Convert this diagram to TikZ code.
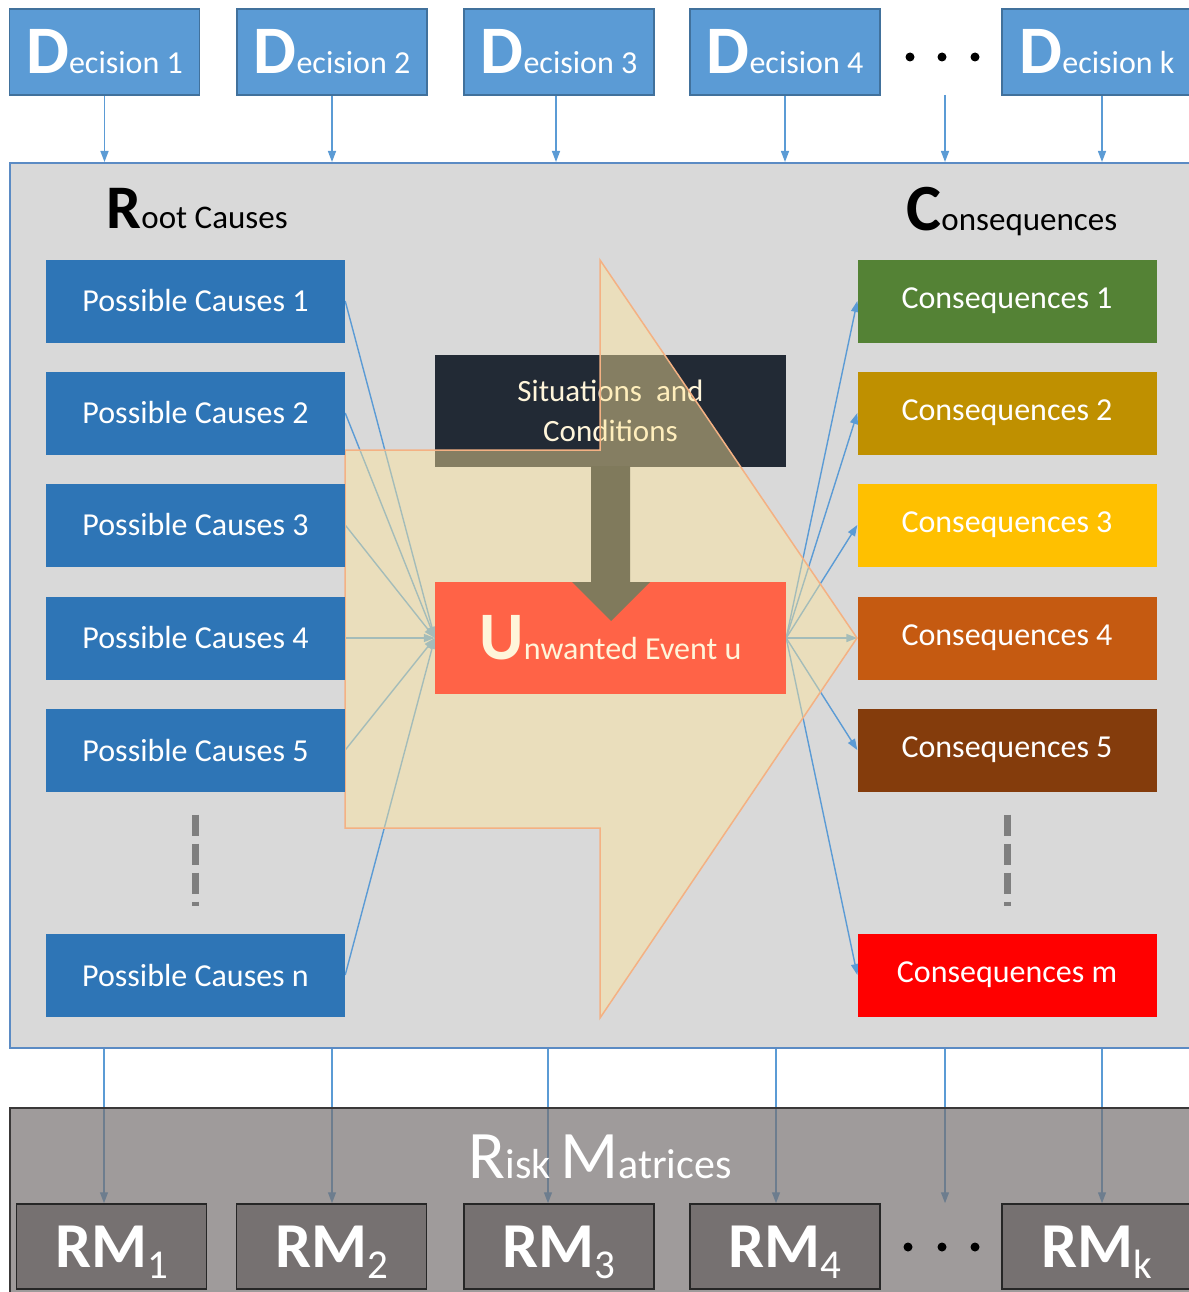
\documentclass[tikz,border=0pt]{standalone}
\usepackage{fontspec}
\setmainfont{Carlito}
\usetikzlibrary{arrows.meta,positioning}

\definecolor{decfill}{HTML}{5B9BD5}
\definecolor{decline}{HTML}{41719C}
\definecolor{panelfill}{HTML}{D9D9D9}
\definecolor{panelline}{HTML}{5B8BC4}
\definecolor{causefill}{HTML}{2E75B6}
\definecolor{cq1}{HTML}{548235}
\definecolor{cq2}{HTML}{BF9000}
\definecolor{cq3}{HTML}{FFC000}
\definecolor{cq4}{HTML}{C55A11}
\definecolor{cq5}{HTML}{843C0C}
\definecolor{cqm}{HTML}{FF0000}
\definecolor{sitfill}{HTML}{222A35}
\definecolor{evtfill}{HTML}{FF6347}
\definecolor{cream}{HTML}{FFF5DA}
\definecolor{dropfill}{HTML}{807A5C}
\definecolor{shadefill}{HTML}{FFE699}
\definecolor{shadeline}{HTML}{F4B183}
\definecolor{bandfill}{HTML}{767171}
\definecolor{bandline}{HTML}{3A3838}
\definecolor{rmline}{HTML}{262626}
\definecolor{linkblue}{HTML}{5B9BD5}
\definecolor{gapgray}{HTML}{7F7F7F}

\pgfdeclarelayer{panel}
\pgfdeclarelayer{links}
\pgfdeclarelayer{shade}
\pgfsetlayers{panel,links,shade,main}

% big first letter, rest of the word in the node font
\newcommand{\bigletter}[2]{{\fontsize{#1}{#1}\selectfont\bfseries #2}}
\newcommand{\plainletter}[2]{{\fontsize{#1}{#1}\selectfont #2}}
\newcommand{\rmlabel}[1]{{\fontsize{64}{64}\selectfont\bfseries RM}\raisebox{-11pt}{\fontsize{41}{41}\selectfont #1}}

\begin{document}
\begin{tikzpicture}[x=1pt, y=-1pt,
    decision/.style={draw=decline, line width=1.5pt, fill=decfill, text=white,
        minimum width=190pt, minimum height=86pt, inner sep=0pt, font=\fontsize{32}{32}\selectfont},
    cause/.style={fill=causefill, text=white, minimum width=299pt, minimum height=83pt,
        inner sep=0pt, font=\fontsize{32}{32}\selectfont},
    conseq/.style={cause, fill=#1},
    core/.style={minimum width=351pt, minimum height=112pt, inner sep=0pt, text=cream},
    link/.style={draw=linkblue, line width=1.4pt, -{Triangle[length=11pt,width=8pt]}},
    rmbox/.style={draw=rmline, line width=1.5pt, fill=bandfill, text=white,
        minimum width=190pt, minimum height=85pt, inner sep=0pt, text depth=0pt},
    gapline/.style={draw=gapgray, line width=7pt, dash pattern=on 21pt off 8pt},
    heading/.style={anchor=base west, font=\fontsize{33}{33}\selectfont}]

    \useasboundingbox (0,0) rectangle (1188,1292);

    % decisions along the top
    \foreach \n/\x in {1/104.5,2/332,3/559,4/785,k/1097}
        \node[decision] (dec\n) at (\x,52) {\bigletter{68}{D}ecision \n};
    \foreach \x in {910,942,975} \fill (\x,57) circle (4.5);
    \coordinate (gap) at (945,95);

    % grey panel with the bow tie
    \begin{pgfonlayer}{panel}
        \node[draw=panelline, line width=2pt, fill=panelfill, minimum width=1180pt,
            minimum height=885pt, inner sep=0pt] (main) at (600,605.5) {};
        \node[core, fill=sitfill, align=center, font=\fontsize{31}{40}\selectfont]
            (sit) at (610.5,410.5) {Situations\ \ and\\Conditions};
    \end{pgfonlayer}

    \node[heading] (rootT) at (103,228) {\bigletter{62}{R}oot Causes};
    \node[heading] (consT) at (903,230) {\bigletter{66}{C}onsequences};

    \foreach \n/\y in {1/301,2/413,3/525,4/638,5/750,n/975}
        \node[cause] (c\n) at (195.5,\y) {Possible Causes \n};
    \foreach \n/\y/\col in {1/301/cq1,2/413/cq2,3/525/cq3,4/638/cq4,5/750/cq5,m/975/cqm}
        \node[conseq=\col] (q\n) at (1007,\y) {Consequences \n};

    \draw[gapline] ([yshift=-23pt]c5.south) -- ([yshift=27pt]cn.north);
    \draw[gapline] ([yshift=-23pt]q5.south) -- ([yshift=27pt]qm.north);

    \node[core, fill=evtfill, font=\fontsize{32}{32}\selectfont] (evt) at (610.5,638)
        {\bigletter{68}{U}nwanted Event u};
    % situations push down into the event
    \fill[dropfill] (591,466) -- (630,466) -- (630,582) -- (650,582) -- (611,621)
        -- (572,582) -- (591,582) -- cycle;

    % risk matrices
    \begin{pgfonlayer}{shade}
        \path[fill=shadefill, fill opacity=.45, draw=shadeline, line width=1.5pt]
            (345,450) -- (600,450) -- (600,260) -- (857,638) -- (600,1018)
            -- (600,828) -- (345,828) -- cycle;
        \node[draw=bandline, line width=1.5pt, fill=bandfill, fill opacity=.7,
            minimum width=1180pt, minimum height=200pt, inner sep=0pt] (band) at (600,1208) {};
    \end{pgfonlayer}
    \node[anchor=base, text=white, font=\fontsize{42}{42}\selectfont] (riskT) at (600,1178)
        {\plainletter{68}{R}isk \plainletter{68}{M}atrices};
    \foreach \n/\x in {1/111.5,2/331.5,3/559,4/785,k/1097}
        \node[rmbox] (rm\n) at (\x,1246.5) {\rmlabel{\n}};
    \foreach \x in {908,942,975} \fill (\x,1247) circle (4.5);

    \begin{pgfonlayer}{links}
        \foreach \n/\s in {1/0,2/0,3/-3,4/0,k/5}
            \draw[link] ([xshift=\s]dec\n.south) -- ([xshift=\s]dec\n.south |- main.north);
        \draw[link] (gap) -- (gap |- main.north);
        \foreach \n in {1,2,3,4,5,n} \draw[link] (c\n.east) -- (evt.west);
        \foreach \n in {1,2,3,4,5,m} \draw[link] (evt.east) -- (q\n.west);
        \foreach \n/\s in {1/-7.5,2/0.5,3/-11,4/-9,k/5}
            \draw[link] ([xshift=\s]rm\n.north |- main.south) -- ([xshift=\s]rm\n.north);
        \draw[link] (gap |- main.south) -- (gap |- rm4.north);
    \end{pgfonlayer}
\end{tikzpicture}
\end{document}
